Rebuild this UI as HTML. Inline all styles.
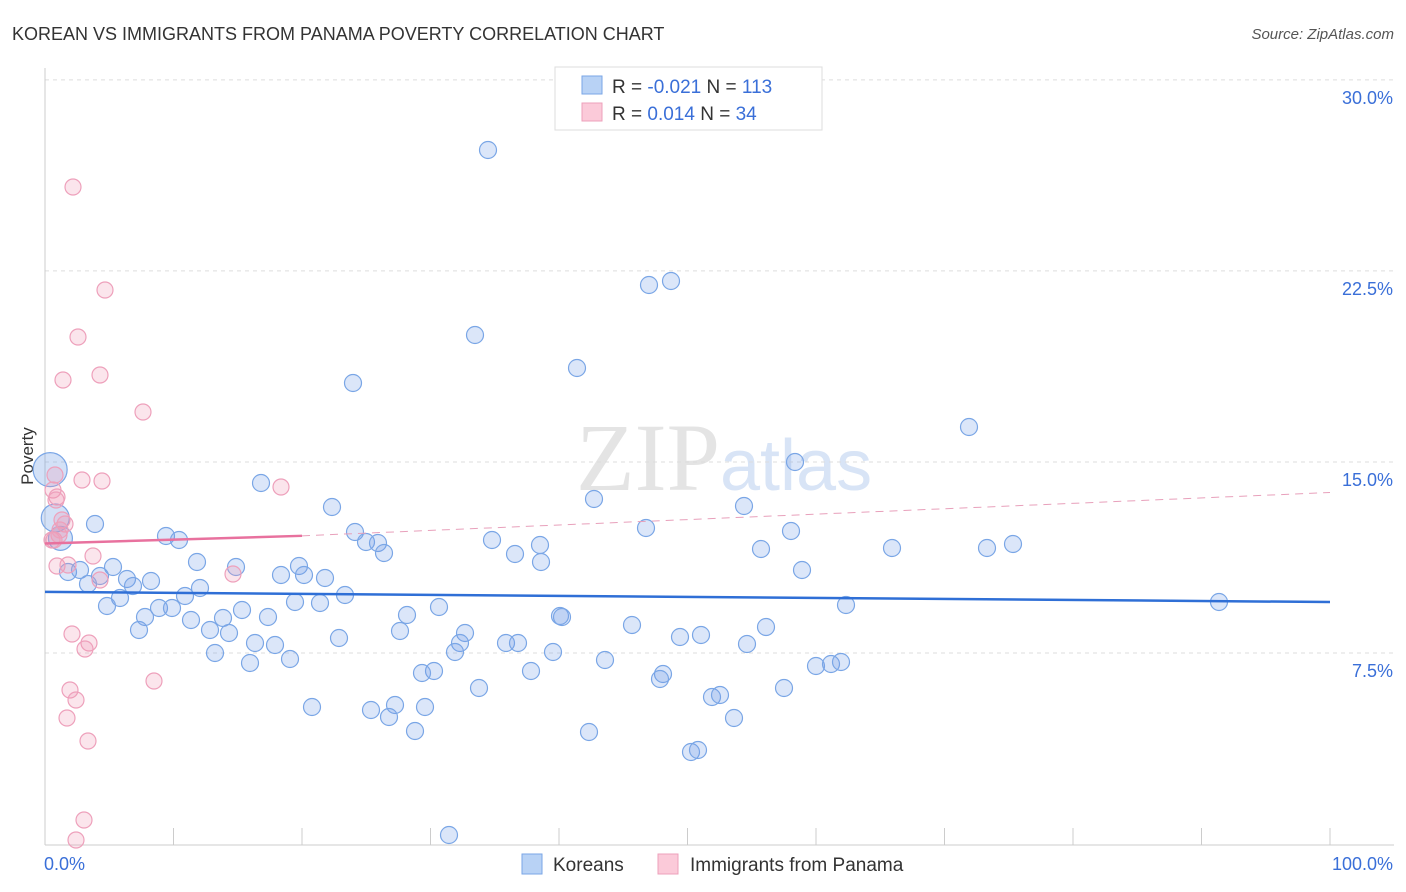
<!DOCTYPE html>
<html><head><meta charset="utf-8"><style>
body{margin:0;background:#fff;font-family:"Liberation Sans",sans-serif;}
svg{display:block}
</style></head><body>
<svg id="chart" width="1406" height="892">
<text x="12" y="40" font-size="18" fill="#333">KOREAN VS IMMIGRANTS FROM PANAMA POVERTY CORRELATION CHART</text>
<text x="1394" y="39" font-size="15" fill="#555" text-anchor="end" font-style="italic">Source: ZipAtlas.com</text>
<text x="720" y="490" font-size="96" fill="#e4e4e4" text-anchor="end" font-family="Liberation Serif">ZIP</text>
<text x="720" y="490" font-size="72" fill="#d8e4f6">atlas</text>
<text x="33" y="456" font-size="17" fill="#333" text-anchor="middle" transform="rotate(-90 33 456)">Poverty</text>
<g id="grid"></g><g id="marks"></g>
<g>
<rect x="555" y="67" width="267" height="63" fill="#fff" stroke="#ddd"/>
<rect x="582" y="76" width="20" height="18" fill="#b8d2f5" stroke="#7aa6e6"/>
<rect x="582" y="103" width="20" height="18" fill="#fbcad9" stroke="#eea0bb"/>
<text x="612" y="93" font-size="19" fill="#333">R = <tspan fill="#3a6fd8">-0.021</tspan>   N = <tspan fill="#3a6fd8">113</tspan></text>
<text x="612" y="120" font-size="19" fill="#333">R =  <tspan fill="#3a6fd8">0.014</tspan>    N =  <tspan fill="#3a6fd8">34</tspan></text>
</g>
<g>
<rect x="522" y="854" width="20" height="20" fill="#b8d2f5" stroke="#7aa6e6"/>
<text x="553" y="871" font-size="19" fill="#333">Koreans</text>
<rect x="658" y="854" width="20" height="20" fill="#fbcad9" stroke="#eea0bb"/>
<text x="690" y="871" font-size="19" fill="#333">Immigrants from Panama</text>
</g>
</svg>
<script>
const yTicks=[7.5,15,22.5,30];
const yTickLabels=["7.5%","15.0%","22.5%","30.0%"];
const xTickLabels=["0.0%","100.0%"];
const koreanPx=[[488,150],[649,285],[671,281],[475,335],[577,368],[353,383],[969,427],[795,462],[261,483],[594,499],[332,507],[744,506],[95,524],[646,528],[791,531],[355,532],[166,536],[179,540],[492,540],[366,542],[378,543],[540,545],[384,553],[515,554],[761,549],[892,548],[987,548],[1013,544],[541,562],[197,562],[113,567],[236,567],[299,566],[802,570],[68,572],[80,570],[100,576],[281,575],[304,575],[325,578],[127,579],[151,581],[88,584],[133,586],[200,588],[185,596],[345,595],[120,598],[107,606],[159,608],[172,608],[295,602],[320,603],[242,610],[407,615],[439,607],[560,616],[562,617],[846,605],[1219,602],[145,617],[191,620],[223,618],[268,617],[210,630],[229,633],[139,630],[400,631],[465,633],[632,625],[766,627],[701,635],[680,637],[339,638],[255,643],[275,645],[460,643],[506,643],[518,643],[747,644],[215,653],[455,652],[553,652],[290,659],[605,660],[250,663],[816,666],[831,664],[841,662],[434,671],[422,673],[531,671],[663,674],[660,679],[479,688],[784,688],[712,697],[720,695],[312,707],[395,705],[425,707],[371,710],[389,717],[734,718],[415,731],[589,732],[691,752],[698,750],[449,835]];
const panamaPx=[[73,187],[105,290],[78,337],[63,380],[100,375],[143,412],[55,475],[82,480],[102,481],[281,487],[53,490],[57,497],[62,520],[65,524],[54,540],[59,535],[93,556],[57,566],[68,565],[100,580],[233,574],[72,634],[89,643],[85,649],[154,681],[70,690],[76,700],[67,718],[88,741],[84,820],[76,840],[52,540],[60,530],[56,500]];
const X0=45,X1=1330,Y0=844,PPU=25.47;
const xs=v=>X0+v*(X1-X0)/100, ys=v=>Y0-v*PPU;
const toData=p=>[(p[0]-X0)*100/(X1-X0),(Y0-p[1])/PPU];
const koreanX=koreanPx.map(p=>toData(p)[0]), koreanY=koreanPx.map(p=>toData(p)[1]);
const panamaX=panamaPx.map(p=>toData(p)[0]), panamaY=panamaPx.map(p=>toData(p)[1]);
const koreanBig=[[0.4,14.7,17],[0.8,12.8,14],[1.2,12.0,12]];
const blueTrend=[9.9,9.5], pinkTrend=[11.8,12.1,13.8];
const NS="http://www.w3.org/2000/svg";
function mk(t,a,parent){const e=document.createElementNS(NS,t);for(const k in a)e.setAttribute(k,a[k]);parent.appendChild(e);return e;}
const g=document.getElementById('grid'), m=document.getElementById('marks');
yTicks.forEach((t,i)=>{
 const l=mk('line',{x1:X0,x2:1394,y1:ys(t)-0,y2:ys(t),stroke:'#ddd','stroke-dasharray':'4,4'},g);
 
 
 const tx=mk('text',{x:1393,y:ys(t)+24,'font-size':18,fill:'#3a6fd8','text-anchor':'end'},g);
 tx.textContent=yTickLabels[i];
 
 
});
mk('line',{x1:X0,x2:X0,y1:68,y2:845,stroke:'#ccc'},g);
mk('line',{x1:X0,x2:1394,y1:845,y2:845,stroke:'#ccc'},g);
for(let i=0;i<=10;i++){const l=mk('line',{x1:xs(i*10),x2:xs(i*10),y1:828,y2:845,stroke:'#ccc'},g);
 
 }
[[xs(0)-1,'start'],[1393,'end']].forEach((p,i)=>{const t=mk('text',{x:p[0],y:870,'font-size':18,fill:'#3a6fd8','text-anchor':p[1]},g);t.textContent=xTickLabels[i];
 
 });
koreanBig.forEach(b=>{const c=mk('circle',{cx:xs(b[0]),cy:ys(b[1]),r:b[2],fill:'rgba(110,155,230,0.3)',stroke:'#7aa6e6','stroke-width':1.2},m);
 
 });
koreanX.forEach((x,i)=>{const c=mk('circle',{cx:xs(x),cy:ys(koreanY[i]),r:8.5,fill:'rgba(110,155,230,0.25)',stroke:'#7aa6e6','stroke-width':1.2},m);
 
 });
panamaX.forEach((x,i)=>{const c=mk('circle',{cx:xs(x),cy:ys(panamaY[i]),r:8,fill:'rgba(240,150,180,0.25)',stroke:'#eea0bb','stroke-width':1.2},m);
 
 });
let l=mk('line',{x1:xs(0),x2:xs(100),y1:ys(blueTrend[0]),y2:ys(blueTrend[1]),stroke:'#2f6fd6','stroke-width':2.5},m);


l=mk('line',{x1:xs(0),x2:xs(20),y1:ys(pinkTrend[0]),y2:ys(pinkTrend[1]),stroke:'#e8719e','stroke-width':2.5},m);


l=mk('line',{x1:xs(20),x2:xs(100),y1:ys(pinkTrend[1]),y2:ys(pinkTrend[2]),stroke:'#e8a0bb','stroke-width':1,'stroke-dasharray':'8,6'},m);


</script>
</body></html>
